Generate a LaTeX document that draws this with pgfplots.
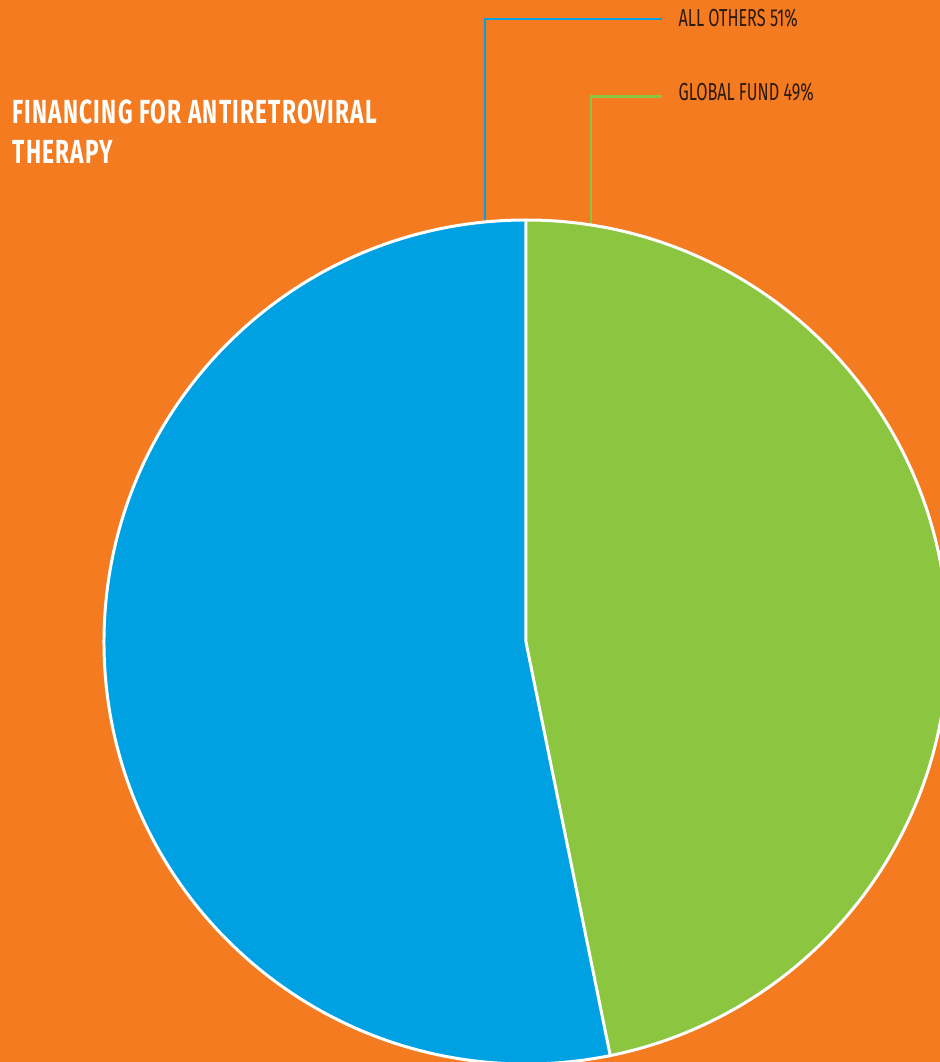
\documentclass[border=0pt]{standalone}
\usepackage{pgfplots}
\pgfplotsset{compat=1.18}
\usepackage{pgfplotstable}
\usepackage{fontspec}
\setmainfont{Fira Sans}
\newfontfamily\titlefont[FakeStretch=0.68, LetterSpace=3.5]{Fira Sans}
\newfontfamily\labelfont[FakeStretch=0.66]{Fira Sans}

\definecolor{bgorange}{HTML}{F47B20}
\definecolor{pieblue}{HTML}{00A1E3}
\definecolor{piegreen}{HTML}{8CC640}
\definecolor{labeldark}{HTML}{2B1A0E}

% shares as drawn in the chart (percent of the circle)
\pgfplotstableread{
label share
GlobalFund 46.8
AllOthers 53.2
}\piedata

\pgfplotstablegetelem{0}{share}\of\piedata
\pgfmathsetmacro\angG{3.6*\pgfplotsretval}
\pgfmathsetmacro\endG{90-\angG}
\def\rad{4.22cm}

\begin{document}
\begin{tikzpicture}
\begin{axis}[
    name=pie,
    width=9.4cm, height=10.62cm,
    scale only axis,
    xmin=0, xmax=940,
    ymin=0, ymax=1062,
    hide axis,
    clip=true,
]
% background
\addplot[fill=bgorange, draw=none] coordinates {(0,0)(940,0)(940,1062)(0,1062)} -- cycle;

% leader lines
\draw[pieblue, line width=0.24mm] (axis cs:485,842) |- (axis cs:662,1042.7);
\draw[piegreen, line width=0.24mm] (axis cs:591,838) |- (axis cs:662,965.3);

% wedges
\fill[piegreen] (axis cs:526,420) -- ++(90:\rad) arc[start angle=90, end angle=\endG, radius=\rad] -- cycle;
\fill[pieblue] (axis cs:526,420) -- ++(90:\rad) arc[start angle=90, end angle=\endG+360, radius=\rad] -- cycle;
\draw[white, line width=0.85pt] (axis cs:526,420) ++(90:\rad) -- (axis cs:526,420) -- ++(\endG:\rad);
\draw[white, line width=0.85pt] (axis cs:526,420) circle[radius=\rad];

% texts
\node[anchor=base west, inner sep=0pt, text=white, font=\titlefont\bfseries\fontsize{9.5}{11}\selectfont]
  at (axis cs:12,938) {FINANCING FOR ANTIRETROVIRAL};
\node[anchor=base west, inner sep=0pt, text=white, font=\titlefont\bfseries\fontsize{9.5}{11}\selectfont]
  at (axis cs:12,898) {THERAPY};
\node[anchor=base west, inner sep=0pt, text=labeldark, font=\labelfont\fontsize{7}{8}\selectfont]
  at (axis cs:678,1035) {ALL OTHERS 51\%};
\node[anchor=base west, inner sep=0pt, text=labeldark, font=\labelfont\fontsize{7}{8}\selectfont]
  at (axis cs:678,961) {GLOBAL FUND 49\%};
\end{axis}
\pgfresetboundingbox
\path[use as bounding box] (pie.south west) rectangle (pie.north east);
\end{tikzpicture}
\end{document}
